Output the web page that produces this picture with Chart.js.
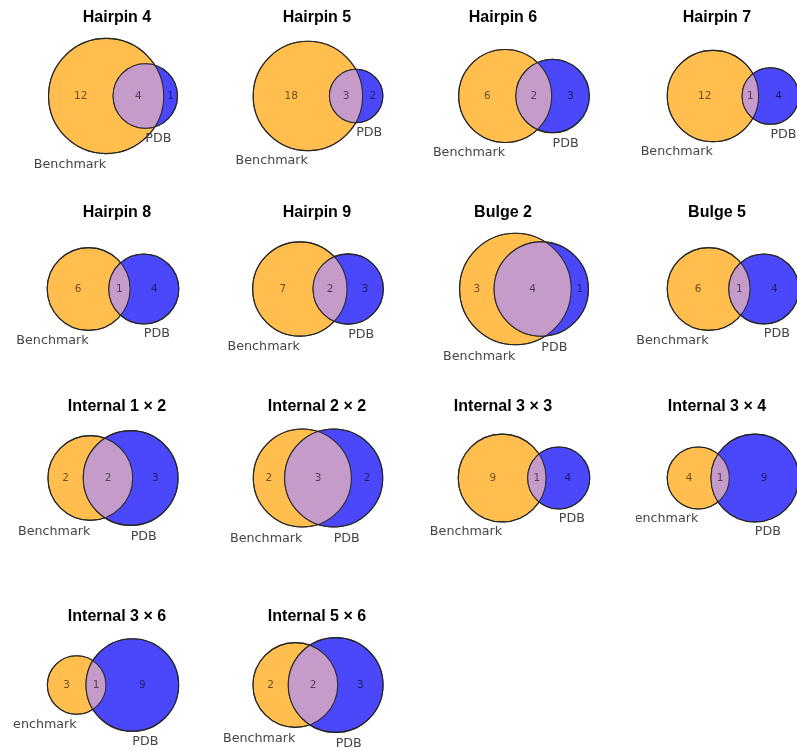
<!DOCTYPE html>
<html>
<head>
<meta charset="utf-8">
<script src="https://cdn.jsdelivr.net/npm/chart.js@4.4.1/dist/chart.umd.min.js"></script>
<style>
  html, body { margin: 0; padding: 0; background: #ffffff; overflow: hidden; }
  #grid { position: relative; width: 797px; height: 751px; overflow: hidden; background: #ffffff; }
  #grid canvas { position: absolute; }
</style>
</head>
<body>
<div id="grid"></div>
<script>
// Motif families and their overlap counts
const titles = [
  'Hairpin 4', 'Hairpin 5', 'Hairpin 6', 'Hairpin 7',
  'Hairpin 8', 'Hairpin 9', 'Bulge 2', 'Bulge 5',
  'Internal 1 × 2', 'Internal 2 × 2', 'Internal 3 × 3', 'Internal 3 × 4',
  'Internal 3 × 6', 'Internal 5 × 6'
];
const benchmarkOnly = [12, 18, 6, 12, 6, 7, 3, 6, 2, 2, 9, 4, 3, 2];
const shared        = [ 4,  3, 2,  1, 1, 2, 4, 1, 2, 3, 1, 1, 1, 2];
const pdbOnly       = [ 1,  2, 3,  4, 4, 3, 1, 4, 3, 2, 4, 9, 9, 3];
const setNames = ['Benchmark', 'PDB'];

// Panel grid (page pixels)
const colCenter = [113, 318, 524, 733];
const colTitle  = [117, 317, 503, 717];
const colHalf   = [100, 100, 100, 97];
const rowTop    = [0, 190, 385, 590];
const rowBottom = [190, 385, 590, 751];
const rowCenter = [96, 289, 478, 685];
const rowTitleBase = [22, 217, 411, 621];
const slotSize = 150;

const COLORS = {
  a: '#FFBE4E',
  b: '#4A48FA',
  ab: '#C59BC9',
  edge: 'rgba(35,35,35,0.9)',
  count: 'rgba(0,0,0,0.6)',
  setLabel: '#454545',
  title: '#000000'
};

// Area of the lens formed by two circles at distance d
function lensArea(r1, r2, d) {
  if (d >= r1 + r2) return 0;
  if (d <= Math.abs(r1 - r2)) return Math.PI * Math.min(r1, r2) ** 2;
  const a1 = Math.acos((d * d + r1 * r1 - r2 * r2) / (2 * d * r1));
  const a2 = Math.acos((d * d + r2 * r2 - r1 * r1) / (2 * d * r2));
  const k = Math.sqrt((-d + r1 + r2) * (d + r1 - r2) * (d - r1 + r2) * (d + r1 + r2));
  return r1 * r1 * a1 + r2 * r2 * a2 - 0.5 * k;
}

function distanceForArea(r1, r2, target) {
  let lo = Math.abs(r1 - r2), hi = r1 + r2;
  for (let i = 0; i < 80; i++) {
    const mid = (lo + hi) / 2;
    if (lensArea(r1, r2, mid) > target) lo = mid; else hi = mid;
  }
  return (lo + hi) / 2;
}

// Draws the shared region, outlines, counts, set names and title
const vennDecor = {
  id: 'vennDecor',
  afterDatasetsDraw(chart) {
    const g = chart.options.plugins.vennDecor;
    const sx = chart.scales.x, sy = chart.scales.y;
    const px = v => sx.getPixelForValue(v);
    const py = v => sy.getPixelForValue(v);
    const plen = v => Math.abs(sx.getPixelForValue(v) - sx.getPixelForValue(0));
    const ctx = chart.ctx;
    const A = { x: px(g.xA), y: py(0), r: plen(g.rA) };
    const B = { x: px(g.xB), y: py(0), r: plen(g.rB) };

    // intersection
    ctx.save();
    ctx.beginPath();
    ctx.arc(A.x, A.y, A.r, 0, Math.PI * 2);
    ctx.clip();
    ctx.beginPath();
    ctx.arc(B.x, B.y, B.r, 0, Math.PI * 2);
    ctx.fillStyle = COLORS.ab;
    ctx.fill();
    ctx.restore();

    // outlines
    ctx.save();
    ctx.strokeStyle = COLORS.edge;
    ctx.lineWidth = 1.1;
    [A, B].forEach(c => {
      ctx.beginPath();
      ctx.arc(c.x, c.y, c.r, 0, Math.PI * 2);
      ctx.stroke();
    });
    ctx.restore();

    // region counts
    ctx.save();
    ctx.font = '10.5px "DejaVu Sans"';
    ctx.fillStyle = COLORS.count;
    ctx.textAlign = 'center';
    ctx.textBaseline = 'middle';
    g.counts.forEach(cn => ctx.fillText(String(cn.v), px(cn.x), py(0)));
    ctx.restore();

    // set names
    ctx.save();
    ctx.font = '12.7px "DejaVu Sans"';
    ctx.fillStyle = COLORS.setLabel;
    ctx.textBaseline = 'top';
    ctx.textAlign = 'right';
    ctx.fillText(setNames[0], px(g.xA), py(-g.rA - g.pad));
    ctx.textAlign = 'left';
    ctx.fillText(setNames[1], px(g.xB), py(-g.rB - g.pad));
    ctx.restore();

    // title
    ctx.save();
    ctx.font = 'bold 16px "Liberation Sans", Arial, sans-serif';
    ctx.fillStyle = COLORS.title;
    ctx.textAlign = 'center';
    ctx.textBaseline = 'alphabetic';
    ctx.fillText(g.title, g.titleX, g.titleY);
    ctx.restore();
  }
};

const grid = document.getElementById('grid');

titles.forEach((title, i) => {
  const row = Math.floor(i / 4), col = i % 4;
  const a = benchmarkOnly[i], ab = shared[i], b = pdbOnly[i];
  const total = a + ab + b;
  const rA = Math.sqrt(((a + ab) / total) / Math.PI);
  const rB = Math.sqrt(((b + ab) / total) / Math.PI);
  const d = distanceForArea(rA, rB, ab / total);
  const xA = -d / 2, xB = d / 2;

  const minX = Math.min(xA - rA, xB - rB);
  const maxX = Math.max(xA + rA, xB + rB);
  const bw = maxX - minX, bh = 2 * Math.max(rA, rB);
  const s = Math.min(slotSize / (bw + 0.2), slotSize / (bh + 0.2));
  const xc = (minX + maxX) / 2;

  const left = colCenter[col] - colHalf[col];
  const width = 2 * colHalf[col];
  const top = rowTop[row];
  const height = rowBottom[row] - rowTop[row];

  const canvas = document.createElement('canvas');
  canvas.width = width;
  canvas.height = height;
  canvas.style.left = left + 'px';
  canvas.style.top = top + 'px';
  canvas.style.width = width + 'px';
  canvas.style.height = height + 'px';
  grid.appendChild(canvas);

  const counts = [
    { v: a,  x: ((xA - rA) + (xB - rB)) / 2 },
    { v: ab, x: ((xB - rB) + (xA + rA)) / 2 },
    { v: b,  x: ((xA + rA) + (xB + rB)) / 2 }
  ];

  new Chart(canvas, {
    type: 'scatter',
    data: {
      datasets: [
        {
          label: setNames[1],
          data: [{ x: xB, y: 0, size: rB }],
          backgroundColor: COLORS.b,
          borderColor: COLORS.edge,
          borderWidth: 1.1,
          order: 1
        },
        {
          label: setNames[0],
          data: [{ x: xA, y: 0, size: rA }],
          backgroundColor: COLORS.a,
          borderColor: COLORS.edge,
          borderWidth: 1.1,
          order: 2
        }
      ]
    },
    options: {
      responsive: false,
      maintainAspectRatio: false,
      animation: false,
      events: [],
      layout: { padding: 0 },
      elements: {
        point: {
          radius: ctx => {
            const sc = ctx.chart.scales.x;
            return Math.abs(sc.getPixelForValue(ctx.raw.size) - sc.getPixelForValue(0));
          },
          hoverRadius: 0
        }
      },
      scales: {
        x: { type: 'linear', display: false, min: xc - colHalf[col] / s, max: xc + colHalf[col] / s },
        y: { type: 'linear', display: false, min: -(rowBottom[row] - rowCenter[row]) / s, max: (rowCenter[row] - top) / s }
      },
      plugins: {
        legend: { display: false },
        tooltip: { enabled: false },
        title: { display: false },
        vennDecor: {
          xA, xB, rA, rB,
          pad: (rA + rB) / 2 * 0.1,
          counts,
          title,
          titleX: colTitle[col] - left,
          titleY: rowTitleBase[row] - top
        }
      }
    },
    plugins: [vennDecor]
  });
});
</script>
</body>
</html>
